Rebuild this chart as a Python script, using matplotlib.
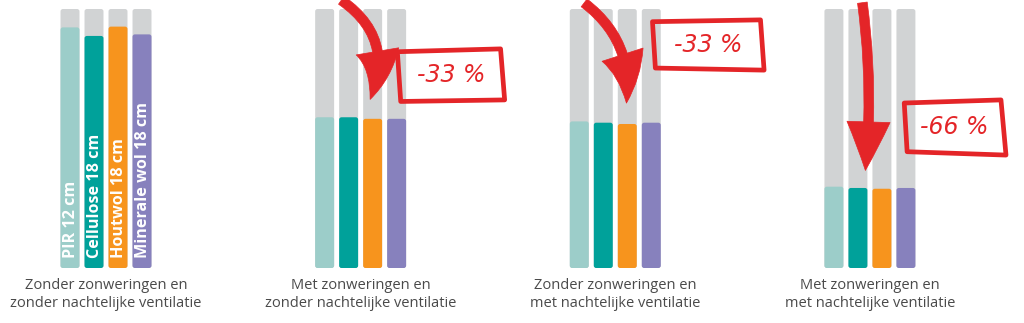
import numpy as np
import matplotlib
matplotlib.use('Agg')
import matplotlib.pyplot as plt
from matplotlib.patches import FancyBboxPatch, FancyArrowPatch, Polygon, ArrowStyle

# data (share of the grey full-height bar)
materials = ['PIR 12 cm', 'Cellulose 18 cm', 'Houtwol 18 cm', 'Minerale wol 18 cm']
colors = ['#9ccdc9', '#00a19a', '#f7941d', '#8781bd']
scenarios = ['Zonder zonweringen en\nzonder nachtelijke ventilatie',
             'Met zonweringen en\nzonder nachtelijke ventilatie',
             'Zonder zonweringen en\nmet nachtelijke ventilatie',
             'Met zonweringen en\nmet nachtelijke ventilatie']
pir = [0.929, 0.582, 0.566, 0.314]
cellulose = [0.896, 0.582, 0.561, 0.309]
houtwol = [0.932, 0.576, 0.556, 0.306]
minerale = [0.902, 0.576, 0.561, 0.309]
reductions = [None, '-33 %', '-33 %', '-66 %']

values = np.array([pir, cellulose, houtwol, minerale])  # material x scenario

GAP = 10.61   # group spacing in bar slots
W = 0.79      # bar width

fig = plt.figure(figsize=(10.24, 3.23), dpi=100)
ax = fig.add_axes([0, 55/323, 1, 259/323])
ax.set_xlim(-70/24, (1024-70)/24)
ax.set_ylim(0, 1)
ax.axis('off')

aspect = 24/259

def rounded(bars, color):
    for r in bars:
        r.set_visible(False)
        p = FancyBboxPatch((r.get_x(), r.get_y()), r.get_width(), r.get_height(),
                           boxstyle='round,pad=0,rounding_size=0.1', mutation_aspect=aspect,
                           fc=color, ec='none', zorder=r.get_zorder())
        ax.add_patch(p)

for g in range(4):
    x = g*GAP + np.arange(4)
    rounded(ax.bar(x, [1]*4, width=W, zorder=1), '#d1d3d4')
    for i in range(4):
        rounded(ax.bar(x[i], values[i, g], width=W, zorder=2), colors[i])
    ax.text(g*GAP + 1.5, -0.04, scenarios[g], ha='center', va='top', fontsize=10.5,
            family='Open Sans', color='#4a4a4a', linespacing=1.2, clip_on=False)

# labels in the first group
for i, m in enumerate(materials):
    ax.text(i + 0.03, 0.04, m, rotation=90, ha='center', va='bottom', color='white',
            fontsize=11.6, fontweight='bold', family='Open Sans', zorder=3)

# red hand-drawn arrows and boxes
red = '#e42528'
arrows = [None,
          ((0.6, 1.04), (1.85, 0.065), -0.42),
          ((0.11, 1.03), (1.95, 0.07), -0.3),
          ((1.17, 1.035), (1.3, 0.06), -0.06)]
boxes = [None,
         [(3.03, 0.835), (7.33, 0.846), (7.5, 0.649), (3.17, 0.643)],
         [(3.05, 0.951), (7.55, 0.958), (7.7, 0.764), (3.17, 0.772)],
         [(2.93, 0.637), (6.96, 0.649), (7.17, 0.436), (3.05, 0.449)]]

for g in range(1, 4):
    x0 = g*GAP
    (sx, sy), (tx, dy), rad = arrows[g]
    tip_y = values[2, g] + dy
    arr = FancyArrowPatch((x0 + sx, sy), (x0 + tx, tip_y),
                          connectionstyle=f'arc3,rad={rad}',
                          arrowstyle=ArrowStyle.Simple(head_length=3.5, head_width=3.1, tail_width=0.7),
                          mutation_scale=10, fc=red, ec=red, lw=0.5, zorder=5, clip_on=False)
    ax.add_patch(arr)
    pts = [(x0 + bx, by) for bx, by in boxes[g]]
    ax.add_patch(Polygon(pts, closed=True, fill=False, ec=red, lw=3.4,
                         joinstyle='round', zorder=5, clip_on=False))
    cx = np.mean([p[0] for p in pts])
    cy = np.mean([p[1] for p in pts])
    ax.text(cx, cy, reductions[g], ha='center', va='center', color=red, fontsize=17,
            style='italic', family='DejaVu Sans', zorder=6)

fig.savefig('out.png', dpi=100)
